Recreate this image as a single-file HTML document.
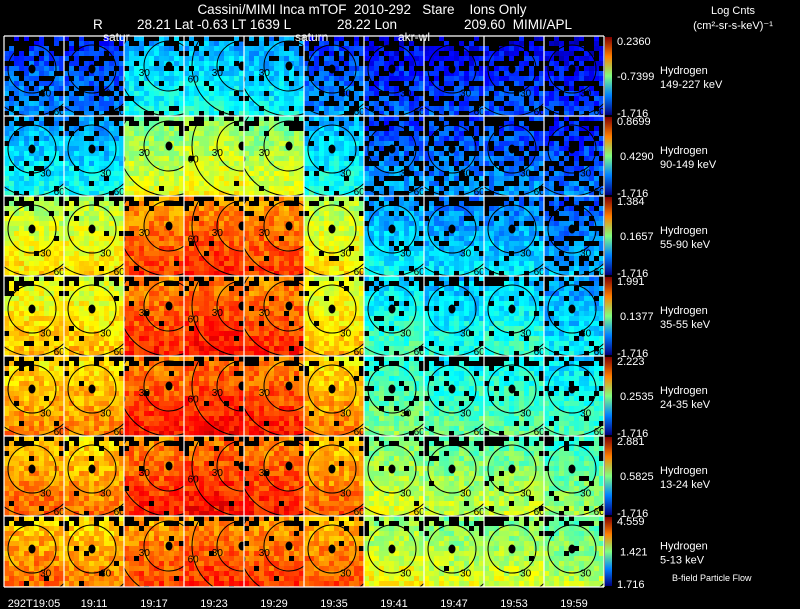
<!DOCTYPE html>
<html><head><meta charset="utf-8">
<style>
html,body{margin:0;padding:0;background:#000;width:800px;height:609px;overflow:hidden}
svg{display:block}
text{font-family:"Liberation Sans",sans-serif;fill:#fff;white-space:pre}
</style></head>
<body>
<svg id="chart" width="800" height="609" viewBox="0 0 800 609" xmlns="http://www.w3.org/2000/svg">
<rect width="800" height="609" fill="#000"/>
<text x="362" y="14" font-size="13.5" text-anchor="middle" xml:space="preserve">Cassini/MIMI Inca mTOF  2010-292   Stare    Ions Only</text>
<text x="93" y="29" font-size="13.5">R</text>
<text x="137" y="29" font-size="13.5">28.21 Lat -0.63 LT 1639 L</text>
<text x="337" y="29" font-size="13.5">28.22 Lon</text>
<text x="464" y="29" font-size="13.5" xml:space="preserve">209.60  MIMI/APL</text>
<text x="733" y="14" font-size="11" text-anchor="middle">Log Cnts</text>
<text x="733" y="29" font-size="11" text-anchor="middle">(cm²-sr-s-keV)⁻¹</text>
<text x="672" y="581" font-size="9">B-field Particle Flow</text>
<g id="panels"></g>
<g id="overlay"></g>
</svg>
<script>
// panel-level mean intensity (0..1 of colour scale), rows = energy channels, cols = times
const times = ["292T19:05","19:11","19:17","19:23","19:29","19:35","19:41","19:47","19:53","19:59"];
const channels = ["149-227 keV","90-149 keV","55-90 keV","35-55 keV","24-35 keV","13-24 keV","5-13 keV"];
const cbTop = ["0.2360","0.8699","1.384","1.991","2.223","2.881","4.559"];
const cbMid = ["-0.7399","0.4290","0.1657","0.1377","0.2535","0.5825","1.421"];
const cbBot = ["-1.716","-1.716","-1.716","-1.716","-1.716","-1.716","1.716"];
const row0 = [0.23,0.21,0.35,0.35,0.33,0.23,0.17,0.16,0.16,0.14];
const row1 = [0.34,0.33,0.55,0.58,0.55,0.36,0.24,0.23,0.23,0.20];
const row2 = [0.60,0.60,0.77,0.79,0.77,0.60,0.33,0.30,0.30,0.26];
const row3 = [0.64,0.64,0.79,0.81,0.79,0.64,0.40,0.36,0.38,0.32];
const row4 = [0.70,0.70,0.80,0.82,0.80,0.70,0.46,0.43,0.43,0.40];
const row5 = [0.73,0.71,0.80,0.82,0.80,0.73,0.55,0.52,0.52,0.48];
const row6 = [0.73,0.71,0.77,0.79,0.77,0.75,0.58,0.55,0.55,0.52];
const intensity = [row0,row1,row2,row3,row4,row5,row6];
const colLabels = [["satur",103],["saturn",295],["akr-wl",398]];

const NS="http://www.w3.org/2000/svg";
const X0=4, Y0=36, PW=60, PH=80, NC=10, NR=7, CELL=5;
const xPanel=c=>X0+c*PW, yPanel=r=>Y0+r*PH;
const rowH=r=>r===NR-1?71:PH;
function jet(v){v=Math.max(0,Math.min(1,v));
 const r=Math.max(0,Math.min(1,1.5-Math.abs(4*v-3))),g=Math.max(0,Math.min(1,1.5-Math.abs(4*v-2))),b=Math.max(0,Math.min(1,1.5-Math.abs(4*v-1)));
 return `rgb(${Math.round(r*255)},${Math.round(g*255)},${Math.round(b*255)})`;}
function hash(a,b,c){let h=(a*374761393+b*668265263+c*2147483647)>>>0;h=(h^(h>>>13))*1274126177>>>0;return ((h^(h>>>16))>>>0)/4294967295;}
function mk(tag,attrs,parent){const e=document.createElementNS(NS,tag);for(const k in attrs)e.setAttribute(k,attrs[k]);parent.appendChild(e);return e;}
const panels=document.getElementById('panels'), ov=document.getElementById('overlay');
const defs=mk('defs',{},panels);
for(let r=0;r<NR;r++){
 for(let c=0;c<NC;c++){
  const px=xPanel(c),py=yPanel(r),h=rowH(r),base=intensity[r][c];
  const cp=mk('clipPath',{id:`cp${r}_${c}`},defs);mk('rect',{x:px,y:py,width:PW,height:h},cp);
  const g=mk('g',{'clip-path':`url(#cp${r}_${c})`},panels);
  
  
  const nx=PW/CELL, ny=Math.ceil(h/CELL);
  const missing = base<0.3?0.3:(base<0.5?0.08:0.02);
  for(let j=0;j<ny;j++)for(let i=0;i<nx;i++){
   const n=hash(r*10+c,i,j);
   const edge=(i===0||i===nx-1)&&j<4;
   if(j<2&&hash(c,i,j+99)<0.4) continue;
   if(n<missing||edge&&n<0.4) continue;
   const v=base+(j/ny-0.5)*0.12+(hash(i,j,r*31+c)-0.5)*0.12;
   mk('rect',{x:px+i*CELL,y:py+j*CELL,width:CELL,height:CELL,fill:jet(v)},g);
  }
  const off=(c>=2&&c<=4), cx=px+(off?(c===3?58:45):28), cy=py+(off?30:33);
  const radii=off?[25,50,80]:[24,47];
  const labs=["30","60","90"];
  radii.forEach((rad,k)=>{
   mk('circle',{cx,cy,r:rad,fill:'none',stroke:'#000','stroke-width':1},g);
   const a=off?Math.PI*0.92:Math.PI*0.3;
   const t=mk('text',{x:cx+Math.cos(a)*rad-6,y:cy+Math.sin(a)*rad+(off?4:8),'font-size':10,style:'fill:#000'},g);t.textContent=labs[k];
  });
  mk('ellipse',{cx,cy:cy,rx:3.5,ry:4.5,fill:'#000'},g);
 }
 const cy0=yPanel(r),h=rowH(r);
 const gr=mk('linearGradient',{id:`cb${r}`,x1:0,y1:1,x2:0,y2:0},defs);
 [0,0.25,0.5,0.75,1].forEach(s=>mk('stop',{offset:s,'stop-color':jet(s)},gr));
 const cb=mk('rect',{x:605,y:cy0+1,width:7,height:h-2,fill:`url(#cb${r})`},ov);
 
 
 let t=mk('text',{x:617,y:cy0+9,'font-size':11},ov);t.textContent=cbTop[r];
 t=mk('text',{x:cbMid[r][0]==='-'?617:620,y:cy0+h/2+4,'font-size':11},ov);t.textContent=cbMid[r];
 t=mk('text',{x:617,y:cy0+h+1,'font-size':11},ov);t.textContent=cbBot[r];
 t=mk('text',{x:660,y:cy0+h/2-2,'font-size':11},ov);t.textContent="Hydrogen";
 
 
 t=mk('text',{x:660,y:cy0+h/2+12,'font-size':11},ov);t.textContent=channels[r];
 
 
}
const gridB=yPanel(NR-1)+rowH(NR-1);
for(let c=0;c<=NC;c++)mk('line',{x1:xPanel(c),y1:Y0,x2:xPanel(c),y2:gridB,stroke:'#fff','stroke-width':1.2},ov);
for(let r=0;r<=NR;r++){const y=r<NR?yPanel(r):gridB;mk('line',{x1:X0,y1:y,x2:X0+NC*PW,y2:y,stroke:'#fff','stroke-width':1.2},ov);}
times.forEach((tm,c)=>{const t=mk('text',{x:xPanel(c)+PW/2,y:607,'font-size':11,'text-anchor':'middle'},ov);t.textContent=tm;
 
 });
colLabels.forEach(([s,x])=>{const t=mk('text',{x,y:41,'font-size':12},ov);t.textContent=s;});
</script>
</body></html>
